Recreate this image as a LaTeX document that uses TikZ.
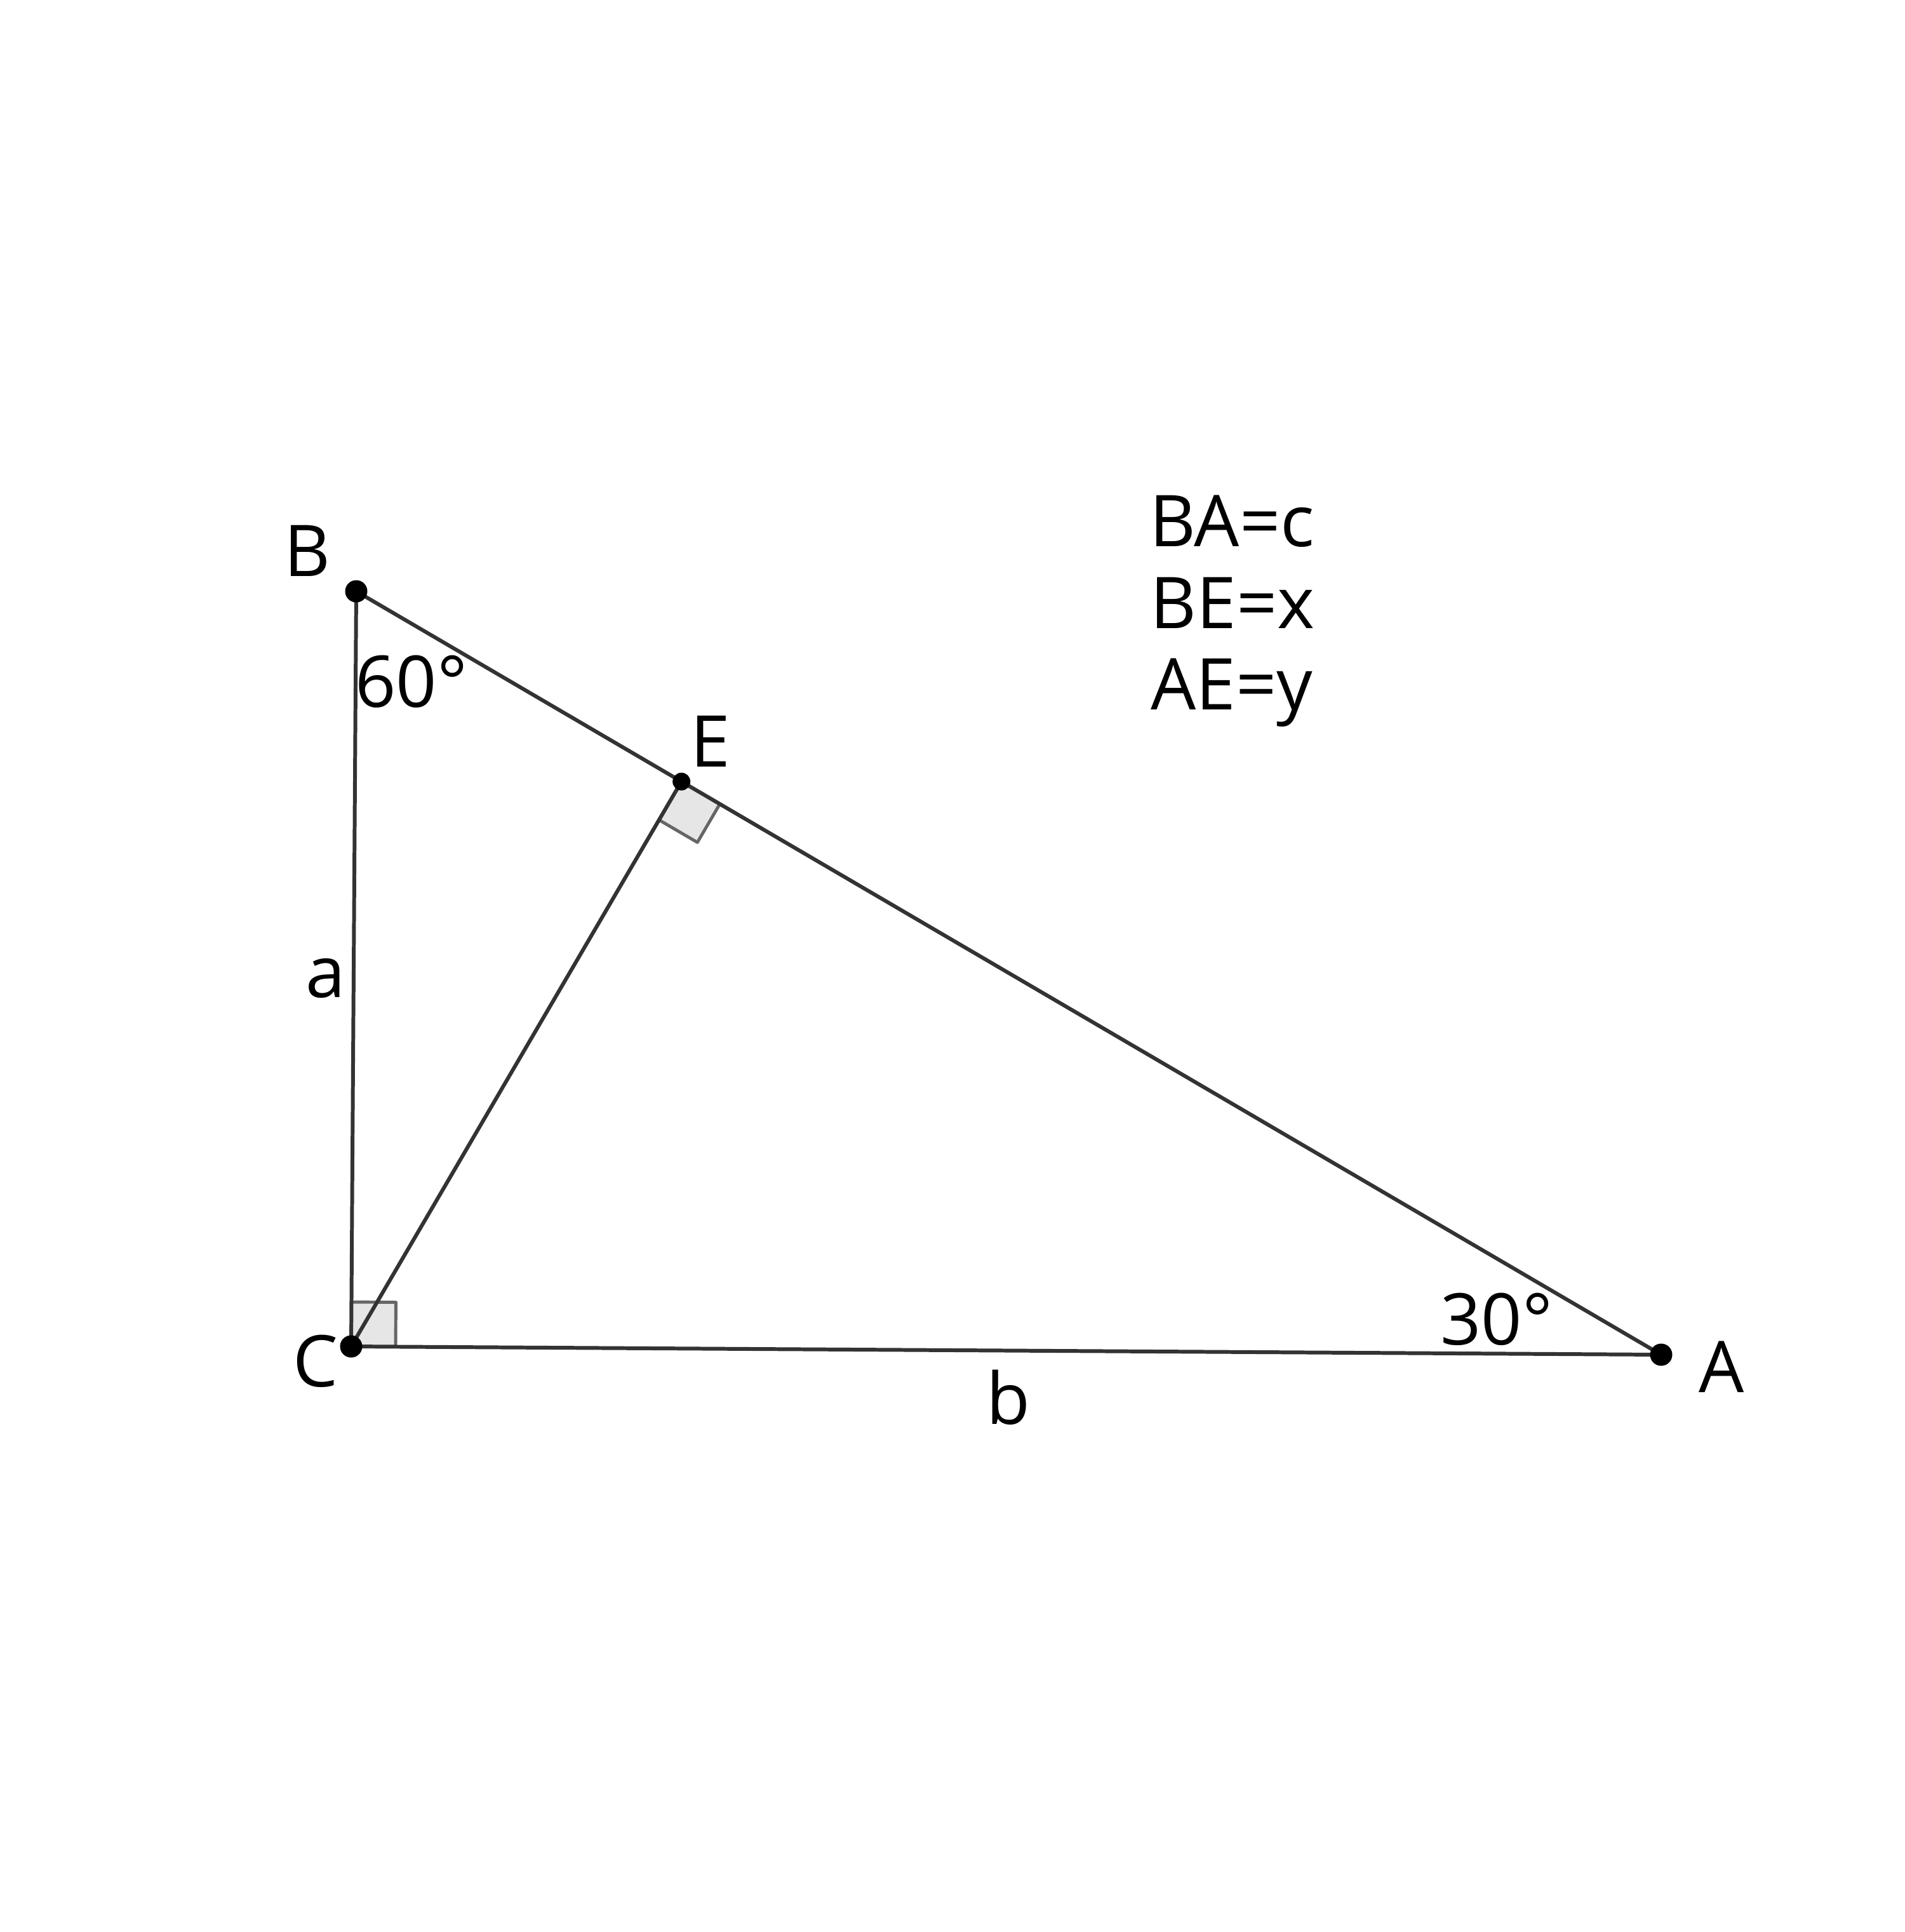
\documentclass[tikz,border=0pt]{standalone}
\usepackage{fontspec}
\setmainfont{Open Sans}
\usepackage{xcolor}
\usepackage{tikz}
\usetikzlibrary{calc}
\definecolor{edgegray}{HTML}{333333}
\definecolor{markgray}{HTML}{666666}
\definecolor{markfill}{HTML}{E6E6E6}
\tikzset{
  sideline/.style={
    line width=1.7pt, color=edgegray, line cap=round
  },
  rightmark/.style={
    line width=1.4pt, draw=markgray, fill=markfill, line join=round
  },
  vertexdot/.style={
    circle, fill=black, inner sep=0pt, minimum size=0.35cm
  },
  geolabel/.style={
    anchor=base, inner sep=0pt, font=\fontsize{32}{38}\selectfont
  },
}

\begin{document}
\begin{tikzpicture}
  \useasboundingbox (0,0) rectangle (30,-30.42);

  % ── Vertices ──
  \coordinate (B) at (5.61,-9.31);
  \coordinate (C) at (5.53,-21.20);
  \coordinate (A) at (26.16,-21.33);
  \coordinate (E) at ($(B)!(C)!(A)$);

  % ── Right angle marks ──
  \filldraw[rightmark] (C) -- ($(C)!0.7cm!(A)$)
    -- ($(C)!0.7cm!(A) + (C)!0.7cm!(B) - (C)$) -- ($(C)!0.7cm!(B)$) -- cycle;
  \filldraw[rightmark] (E) -- ($(E)!0.7cm!(A)$)
    -- ($(E)!0.7cm!(A) + (E)!0.7cm!(C) - (E)$) -- ($(E)!0.7cm!(C)$) -- cycle;

  % ── Sides ──
  \draw[sideline] (B) -- (C) -- (A) -- cycle;
  \draw[sideline] (C) -- (E);

  % ── Points ──
  \node[vertexdot] (dotB) at (B) {};
  \node[vertexdot] (dotC) at (C) {};
  \node[vertexdot] (dotA) at (A) {};
  \node[vertexdot, minimum size=0.28cm] (dotE) at (E) {};

  % ── Labels ──
  \node[geolabel] (labB) at (4.84,-9.07) {B};
  \node[geolabel] (labC) at (4.97,-21.83) {C};
  \node[geolabel] (labA) at (27.11,-21.92) {A};
  \node[geolabel] (labE) at (11.19,-12.07) {E};
  \node[geolabel] (sidea) at (5.13,-15.70) {a};
  \node[geolabel] (sideb) at (15.88,-22.42) {b};
  \node[geolabel] (angB) at (6.48,-11.13) {60°};
  \node[geolabel] (angA) at (23.57,-21.17) {30°};

  % ── Lengths ──
  \node[geolabel] (lenc) at (19.40,-8.60) {BA=c};
  \node[geolabel] (lenx) at (19.41,-9.89) {BE=x};
  \node[geolabel] (leny) at (19.40,-11.17) {AE=y};
\end{tikzpicture}
\end{document}
